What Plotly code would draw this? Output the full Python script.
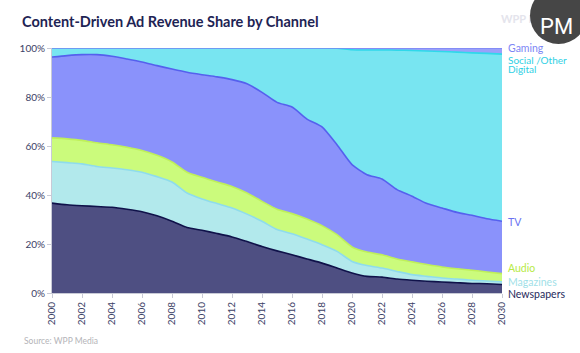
import plotly.graph_objects as go

years = list(range(2000, 2031))
newspapers = [36.7, 36.0, 35.6, 35.3, 35.0, 34.2, 33.2, 31.5, 29.3, 26.7, 25.6, 24.3, 22.9, 21.0, 19.0, 17.2,
              15.6, 13.9, 12.2, 10.2, 8.2, 6.8, 6.5, 5.7, 5.2, 4.8, 4.5, 4.2, 3.9, 3.8, 3.5]
magazines = [17.0, 17.2, 17.1, 16.3, 16.0, 16.1, 16.1, 16.0, 16.0, 14.1, 12.8, 12.2, 11.8, 11.2, 10.3, 8.7,
             8.6, 8.1, 7.5, 6.8, 4.7, 4.4, 3.7, 3.1, 2.3, 2.0, 1.6, 1.5, 1.3, 1.1, 1.1]
audio = [9.6, 9.7, 9.6, 9.7, 9.5, 9.2, 8.9, 8.7, 8.2, 8.5, 8.8, 8.8, 8.8, 8.6, 8.1, 8.3,
         8.2, 8.2, 7.8, 6.8, 5.9, 5.5, 5.4, 5.1, 5.2, 4.8, 4.5, 4.2, 4.1, 3.7, 3.3]
tv = [33.0, 34.0, 35.0, 36.0, 36.1, 36.0, 36.1, 36.6, 37.9, 40.8, 41.9, 42.9, 43.6, 44.6, 44.5, 43.6,
      43.5, 40.8, 40.3, 36.7, 33.6, 31.6, 30.9, 28.3, 26.8, 24.9, 24.1, 23.0, 22.4, 21.7, 21.4]
social = [3.7, 3.1, 2.7, 2.7, 3.4, 4.5, 5.7, 7.2, 8.6, 9.9, 10.9, 11.8, 12.9, 14.6, 18.1, 22.2,
          24.1, 29.0, 32.2, 39.4, 46.9, 50.9, 52.7, 56.9, 59.5, 62.3, 63.9, 65.4, 66.3, 67.5, 68.2]
gaming = [0.0] * 19 + [0.1, 0.7, 0.8, 0.8, 0.9, 1.0, 1.2, 1.4, 1.7, 2.0, 2.2, 2.5]

y_ticks = [0, 20, 40, 60, 80, 100]
y_ticktext = [f"{v}%" for v in y_ticks]
x_ticks = list(range(2000, 2031, 2))

series = [
    ("Newspapers", newspapers, "#4e4f82", "#10124a"),
    ("Magazines", magazines, "#b2e9ec", "#8fdcec"),
    ("Audio", audio, "#cbfb7c", "#bff05a"),
    ("TV", tv, "#8a92fb", "#5560ee"),
    ("Social /Other Digital", social, "#78e5f1", "#2fd8ea"),
    ("Gaming", gaming, "#9aa0fa", "#7d86f5"),
]

W, H = 580, 353
L, R, T, B = 52, 502, 48, 293   # plot area in pixels

fig = go.Figure()
for name, vals, fill, line in series:
    fig.add_trace(go.Scatter(
        x=years, y=vals, name=name, mode="lines", stackgroup="one",
        fillcolor=fill, line=dict(color=line, width=1.6, shape="spline", smoothing=0.6),
        hoverinfo="x+y+name",
    ))

font = "Lato"

# overlay pixel-space axes (x2/y2) covering the whole figure for decorations
fig.add_trace(go.Scatter(
    x=[501], y=[20], xaxis="x2", yaxis="y2", mode="text", text=["<b>WPP Media</b>"],
    textposition="middle right", cliponaxis=False, hoverinfo="skip",
    textfont=dict(family=font, size=11, color="#e4e4ec"),
))

fig.update_layout(
    width=W, height=H,
    margin=dict(l=0, r=0, t=0, b=0),
    paper_bgcolor="white", plot_bgcolor="rgba(0,0,0,0)",
    showlegend=False,
    font=dict(family=font, color="#3b4166", size=10),
    title=dict(text="<b>Content-Driven Ad Revenue Share by Channel</b>", x=22 / W, xanchor="left",
               xref="paper", y=1 - 22 / H, yanchor="middle",
               font=dict(family=font, size=14.5, color="#1e2454")),
    xaxis=dict(
        domain=[L / W, R / W], anchor="y", automargin=False,
        range=[2000, 2030], tickmode="array", tickvals=x_ticks,
        ticktext=[str(y) for y in x_ticks], tickangle=-90,
        showgrid=False, ticks="outside", ticklen=4, tickcolor="#c8cad6",
        showline=True, linecolor="#c8cad6", linewidth=1,
        tickfont=dict(size=10, color="#3b4166"), zeroline=False,
    ),
    yaxis=dict(
        domain=[(H - B) / H, (H - T) / H], anchor="x", automargin=False,
        range=[0, 100], tickmode="array", tickvals=y_ticks, ticktext=y_ticktext,
        showgrid=True, gridcolor="rgba(60,60,110,0.12)", layer="above traces",
        ticks="outside", ticklen=4, tickcolor="#c8cad6",
        showline=True, linecolor="#c8cad6", linewidth=1,
        tickfont=dict(size=10, color="#3b4166"), zeroline=False,
    ),
    xaxis2=dict(domain=[0, 1], range=[0, W], visible=False, anchor="y2", fixedrange=True,
                automargin=False),
    yaxis2=dict(domain=[0, 1], range=[H, 0], visible=False, anchor="x2", fixedrange=True,
                automargin=False),
)

labels = [
    ("Gaming", 47.5, "#7d86f5", 10.5),
    ("Social /Other", 60.3, "#2fd0e4", 10),
    ("Digital", 69.0, "#2fd0e4", 10),
    ("TV", 221.5, "#6a72f2", 10.5),
    ("Audio", 267.5, "#b6ea45", 10.5),
    ("Magazines", 281.5, "#9fdfe8", 10.5),
    ("Newspapers", 293.5, "#262a5c", 10.5),
]
for text, ypix, col, fs in labels:
    fig.add_annotation(x=R + 4, xref="x2", y=ypix, yref="y2", text=text, showarrow=False,
                       xanchor="left", yanchor="middle", align="left",
                       font=dict(family=font, size=fs, color=col))

fig.add_annotation(x=22, xref="x2", y=341, yref="y2", yanchor="middle", xanchor="left",
                   text="Source: WPP Media", showarrow=False,
                   font=dict(family=font, size=8.5, color="#b4b4b8"))

# logo
fig.add_shape(type="circle", xref="x2", yref="y2", x0=530, x1=587, y0=-13, y1=44,
              fillcolor="#464646", line=dict(width=0), layer="above")
fig.add_annotation(x=556, xref="x2", y=26, yref="y2",
                   text="PM", showarrow=False, xanchor="center", yanchor="middle",
                   font=dict(family="Roboto", size=22, color="white"))

fig.write_html("out.html")
